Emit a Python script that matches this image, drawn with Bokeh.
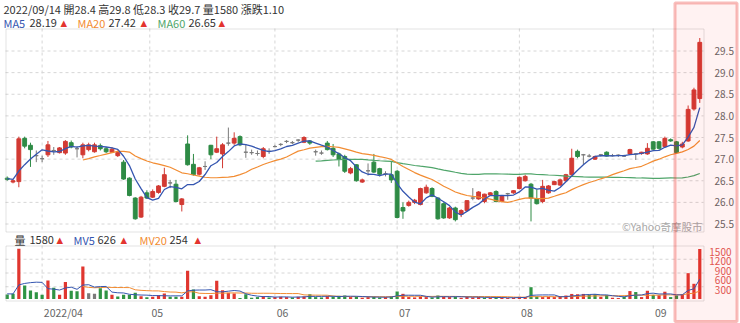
import numpy as np
import pandas as pd
from bokeh.plotting import figure
from bokeh.models import Range1d, ColumnDataSource, BoxAnnotation
from bokeh.core.properties import value
from bokeh.embed import file_html
from bokeh.resources import INLINE

# ---------------- data ----------------
opens = [26.56, 26.47, 26.48, 27.48, 27.32, 27.08, 27.01, 27.10, 27.20, 27.15,
         27.14, 27.38, 27.24, 27.10, 27.22, 27.17, 27.31, 27.24, 27.16, 27.08,
         26.93, 26.56, 26.10, 25.66, 26.22, 26.12, 26.23, 26.37, 26.45, 26.42,
         25.95, 27.35, 26.88, 26.65, 26.83, 27.32, 27.16, 27.12, 27.37, 27.37,
         27.52, 27.16, 27.15, 27.13, 27.06, 27.18, 27.29, 27.34, 27.41, 27.38,
         27.44, 27.39, 27.42, 27.17, 27.14, 27.37, 27.25, 27.12, 27.06, 26.68,
         26.87, 26.47, 26.73, 26.93, 26.78, 26.66, 26.64, 26.72, 25.88, 25.93,
         26.00, 25.95, 26.22, 26.32, 26.10, 25.97, 25.64, 25.87, 25.72, 25.81,
         26.10, 26.08, 26.02, 26.17, 26.25, 26.02, 26.20, 26.22, 26.32, 26.50,
         26.42, 26.08, 26.02, 26.22, 26.41, 26.40, 26.50, 26.64, 27.18, 27.10,
         27.07, 27.00, 27.10, 27.16, 27.08, 27.09, 27.07, 27.12, 27.12, 27.13,
         27.12, 27.40, 27.40, 27.29, 27.45, 27.40, 27.28, 27.42, 28.16, 28.40]
highs = [26.60, 26.53, 27.52, 27.52, 27.38, 27.20, 27.08, 27.42, 27.28, 27.28,
         27.44, 27.43, 27.30, 27.38, 27.38, 27.38, 27.36, 27.28, 27.28, 27.20,
         26.98, 26.58, 26.12, 26.15, 26.28, 26.30, 26.40, 26.80, 26.52, 26.52,
         26.10, 27.55, 27.12, 26.82, 26.95, 27.33, 27.52, 27.37, 27.73, 27.62,
         27.55, 27.35, 27.22, 27.20, 27.28, 27.25, 27.33, 27.37, 27.44, 27.42,
         27.46, 27.53, 27.44, 27.22, 27.20, 27.42, 27.35, 27.15, 27.10, 26.82,
         26.88, 26.55, 26.90, 27.12, 26.80, 26.72, 26.95, 26.75, 26.00, 26.04,
         26.08, 26.34, 26.41, 26.35, 26.12, 26.00, 25.90, 25.90, 25.84, 26.05,
         26.33, 26.26, 26.20, 26.24, 26.28, 26.16, 26.22, 26.28, 26.60, 26.64,
         26.45, 26.30, 26.52, 26.40, 26.50, 26.55, 26.66, 27.24, 27.22, 27.12,
         27.12, 27.08, 27.12, 27.18, 27.12, 27.11, 27.10, 27.24, 27.14, 27.17,
         27.37, 27.42, 27.42, 27.52, 27.48, 27.42, 27.40, 28.24, 28.65, 29.80]
lows = [26.50, 26.44, 26.35, 27.25, 26.82, 26.93, 26.93, 27.05, 27.10, 27.13,
        27.10, 27.25, 27.04, 27.02, 27.18, 27.15, 27.20, 27.14, 27.14, 27.05,
        26.52, 26.14, 25.60, 25.64, 26.08, 26.10, 26.20, 26.35, 26.33, 26.00,
        25.79, 26.85, 26.62, 26.62, 26.75, 27.00, 27.14, 26.79, 27.31, 27.33,
        27.30, 27.03, 27.10, 27.08, 27.02, 27.12, 27.27, 27.30, 27.37, 27.35,
        27.40, 27.37, 27.33, 27.08, 27.10, 27.20, 27.05, 26.83, 26.68, 26.65,
        26.48, 26.45, 26.62, 26.68, 26.60, 26.60, 26.45, 25.63, 25.62, 25.90,
        25.96, 25.93, 26.20, 26.12, 25.60, 25.62, 25.62, 25.56, 25.66, 25.79,
        26.05, 26.06, 25.98, 26.15, 26.00, 26.00, 26.06, 26.20, 26.30, 26.48,
        25.56, 25.95, 25.98, 26.20, 26.40, 26.38, 26.48, 26.62, 27.02, 26.88,
        27.04, 26.98, 27.06, 27.06, 27.06, 27.05, 27.05, 27.10, 26.98, 27.10,
        27.10, 27.22, 27.22, 27.27, 27.40, 27.12, 27.25, 27.40, 28.12, 28.30]
closes = [26.53, 26.50, 27.47, 27.30, 27.22, 27.08, 27.01, 27.33, 27.20, 27.26,
          27.41, 27.28, 27.24, 27.33, 27.33, 27.33, 27.24, 27.17, 27.23, 27.15,
          26.54, 26.16, 25.62, 26.12, 26.10, 26.25, 26.38, 26.64, 26.45, 26.02,
          26.08, 26.87, 26.64, 26.80, 26.83, 27.10, 27.24, 27.33, 27.37, 27.48,
          27.33, 27.16, 27.15, 27.13, 27.24, 27.18, 27.29, 27.34, 27.41, 27.38,
          27.44, 27.50, 27.37, 27.17, 27.14, 27.22, 27.10, 27.00, 26.72, 26.78,
          26.50, 26.52, 26.73, 26.70, 26.65, 26.66, 26.52, 25.65, 25.80, 26.00,
          26.05, 26.32, 26.35, 26.14, 25.62, 25.64, 25.87, 25.60, 25.81, 26.04,
          26.10, 26.24, 26.19, 26.22, 26.02, 26.14, 26.20, 26.27, 26.58, 26.60,
          26.10, 25.97, 26.37, 26.38, 26.48, 26.52, 26.64, 27.02, 27.06, 27.10,
          27.07, 27.06, 27.10, 27.07, 27.08, 27.09, 27.07, 27.22, 27.12, 27.16,
          27.25, 27.23, 27.25, 27.48, 27.42, 27.15, 27.35, 28.15, 28.60, 29.70]
volumes = [142, 163, 1584, 426, 268, 216, 132, 584, 353, 132,
           540, 258, 247, 1026, 184, 163, 342, 268, 132, 79,
           132, 132, 195, 90, 58, 68, 121, 174, 68, 68,
           68, 892, 300, 90, 68, 121, 573, 279, 195, 174,
           30, 153, 40, 60, 90, 50, 60, 70, 60, 50,
           70, 80, 150, 60, 50, 90, 80, 100, 110, 60,
           80, 40, 60, 70, 50, 60, 80, 237, 163, 60,
           50, 80, 60, 50, 110, 70, 60, 80, 40, 70,
           50, 60, 40, 40, 50, 40, 30, 40, 70, 60,
           373, 80, 60, 70, 60, 80, 110, 160, 150, 160,
           130, 150, 70, 130, 40, 30, 70, 250, 220, 60,
           260, 130, 120, 230, 60, 110, 145, 816, 480, 1580]
# sessions before the first visible candle (only feed the moving averages)
prior_closes = [26.70, 26.52, 26.60, 26.50, 26.56, 26.56]
prior_volumes = [720, 436, 180, 160, 190, 143]

month_labels = ["2022/04", "05", "06", "07", "08", "09"]
month_pos = [6, 24.5, 46, 67, 88, 111]
price_ticks = [25.5, 26.0, 26.5, 27.0, 27.5, 28.0, 28.5, 29.0, 29.5]
vol_ticks = [300, 600, 900, 1200, 1500]

header_text = "2022/09/14 開28.4 高29.8 低28.3 收29.7 量1580 漲跌1.10"
ma_names = ["MA5", "MA20", "MA60"]
ma_values = ["28.19", "27.42", "26.65"]
mv_names = ["量", "MV5", "MV20"]
mv_values = ["1580", "626", "254"]
watermark = "©Yahoo奇摩股市"

# ---------------- derived ----------------
n = len(closes)
npr = len(prior_closes)
idx = list(range(n))
all_c = pd.Series(prior_closes + closes, dtype=float)
all_v = pd.Series(prior_volumes + volumes, dtype=float)
ma5 = all_c.rolling(5).mean().values[npr:]
ma20 = all_c.rolling(20).mean().values[npr:]
ma60 = all_c.rolling(60).mean().values[npr:]
mv5 = all_v.rolling(5).mean().values[npr:]
mv20 = all_v.rolling(20).mean().values[npr:]
prev_close = (prior_closes + closes)[npr - 1:-1]

RED, GREEN, GRAY = "#d23a33", "#2e8b45", "#7a7a7a"
VRED, VGREEN = "#e0362f", "#2f9444"
BLUE, ORANGE, MGREEN = "#3556b0", "#f28c32", "#4fa56a"


def col(a, b, up, dn):
    return up if b > a else (dn if b < a else GRAY)


candle_col = [col(o, c, RED, GREEN) for o, c in zip(opens, closes)]
vol_col = [col(pc, c, VRED, VGREEN) for pc, c in zip(prev_close, closes)]

src = ColumnDataSource(dict(
    x=idx, o=opens, h=highs, l=lows, c=closes, v=volumes,
    top=[max(o, c) for o, c in zip(opens, closes)],
    bot=[min(o, c) for o, c in zip(opens, closes)],
    cc=candle_col, vc=vol_col,
    ma5=ma5, ma20=ma20, ma60=ma60, mv5=mv5, mv20=mv20))

# ---------------- layout (pixel geometry of the picture) ----------------
W, H = 740, 323
PX0, DX = 6.7, 5.82           # pixel of first candle, pixels per session
PY_REF, P_REF, PPU = 50.5, 29.5, 43.25   # price 29.5 sits at y=50.5, 43.25 px per unit
VY0, VPU = 298.5, 31.58       # volume zero line, volume units per px
L, R = 5, 703                 # panel left / right
PT, PB = 28, 231              # price panel top / bottom
VT, VB = 245, 300             # volume panel top / bottom


def xd(px):
    return (px - PX0) / DX


def yd(py):
    return P_REF - (py - PY_REF) / PPU


p = figure(width=W, height=H, output_backend="svg", toolbar_location=None,
           x_range=Range1d(xd(0), xd(W)), y_range=Range1d(yd(H), yd(0)),
           x_axis_location=None, y_axis_location=None, min_border=0,
           outline_line_color=None, background_fill_color="white",
           border_fill_color="white")
p.extra_y_ranges = {"vol": Range1d(-(H - VY0) * VPU, VY0 * VPU)}
p.grid.visible = False

CJK = "Noto Sans CJK TC"
GRID = "#d6d6d6"

# grids
p.segment(x0=xd(L), x1=xd(R), y0=price_ticks, y1=price_ticks,
          line_color=GRID, line_dash="3 3", line_width=1)
vq = [yd(VT + (VB - VT) * k / 4) for k in (1, 2, 3)]
p.segment(x0=xd(L), x1=xd(R), y0=vq, y1=vq, line_color=GRID, line_dash="3 3")
p.segment(x0=month_pos, x1=month_pos, y0=yd(PT), y1=yd(PB),
          line_color=GRID, line_dash="3 3")
p.segment(x0=month_pos, x1=month_pos, y0=yd(VT), y1=yd(VB),
          line_color=GRID, line_dash="3 3")

# volume
p.vbar(x="x", top="v", bottom=0, width=0.55, fill_color="vc", line_color=None,
       source=src, y_range_name="vol")
p.line("x", "mv20", source=src, y_range_name="vol", line_color=ORANGE, line_width=1)
p.line("x", "mv5", source=src, y_range_name="vol", line_color=BLUE, line_width=1)

# candles
p.segment(x0="x", x1="x", y0="l", y1="h", line_color="cc", line_width=1, source=src)
p.vbar(x="x", top="top", bottom="bot", width=0.66, fill_color="cc",
       line_color="cc", line_width=1, source=src)

# moving averages
p.line("x", "ma60", source=src, line_color=MGREEN, line_width=1.2)
p.line("x", "ma20", source=src, line_color=ORANGE, line_width=1.2)
p.line("x", "ma5", source=src, line_color=BLUE, line_width=1.3)

# panel frames
for top, bot in ((PT, PB), (VT, VB)):
    p.add_layout(BoxAnnotation(left=xd(L + 0.5), right=xd(R + 0.5), top=yd(top + 0.5),
                               bottom=yd(bot + 0.5), fill_alpha=0,
                               line_color="#a3a3a3", line_width=1))

# price axis labels
p.text(x=[xd(714)] * len(price_ticks), y=price_ticks,
       text=[f"{t:.1f}" for t in price_ticks], text_font=value(CJK),
       text_font_size="10px", text_color="#666666", text_baseline="middle",
       text_align="left")
# volume axis labels
p.text(x=[xd(731)] * len(vol_ticks), y=vol_ticks, y_range_name="vol",
       text=[str(t) for t in vol_ticks], text_font=value(CJK),
       text_font_size="10px", text_color="#e05a55", text_baseline="middle",
       text_align="right")
# month labels
p.text(x=[m + 0.3 for m in month_pos], y=[yd(312)] * len(month_pos),
       text=month_labels, text_font=value(CJK), text_font_size="10.5px",
       text_color="#666666", text_baseline="middle", text_align="left")

# header (quote line)
p.text(x=[xd(3)], y=[yd(8)], text=[header_text], text_font=value(CJK),
       text_font_size="11px", text_color="#333333", text_baseline="middle",
       text_align="left")


# legend rows (name, value, arrow)
def legend_row(py, xs_name, xs_val, xs_tri, names, vals, name_cols):
    p.text(x=[xd(v) for v in xs_name], y=[yd(py)] * 3, text=names,
           text_color=name_cols, text_font=value(CJK), text_font_size="11px",
           text_baseline="middle", text_align="left")
    p.text(x=[xd(v) for v in xs_val], y=[yd(py)] * 3, text=vals,
           text_color="#333333", text_font=value(CJK), text_font_size="11px",
           text_baseline="middle", text_align="left")
    p.text(x=[xd(v) for v in xs_tri], y=[yd(py)] * 3, text=["▲"] * 3,
           text_color="#e3342f", text_font=value("DejaVu Sans"),
           text_font_size="8.5px", text_baseline="middle", text_align="left")


legend_row(22, [3, 77, 157], [29, 108, 188], [60, 140, 218],
           ma_names, ma_values, [BLUE, ORANGE, MGREEN])
legend_row(239, [14, 73, 139], [29, 97, 169], [56, 120, 194],
           mv_names, mv_values, ["#333333", BLUE, ORANGE])

# watermark
p.text(x=[xd(702)], y=[yd(226)], text=[watermark], text_font=value(CJK),
       text_font_size="10.5px", text_color="#a8a8a8", text_baseline="middle",
       text_align="right")

# highlight box
p.add_layout(BoxAnnotation(left=xd(674.5), right=xd(736.5), top=yd(2.5),
                           bottom=yd(321), fill_color="#ff0000", fill_alpha=0.05,
                           line_color="#e8231d", line_width=3))

open("out.html", "w").write(file_html(p, INLINE))
